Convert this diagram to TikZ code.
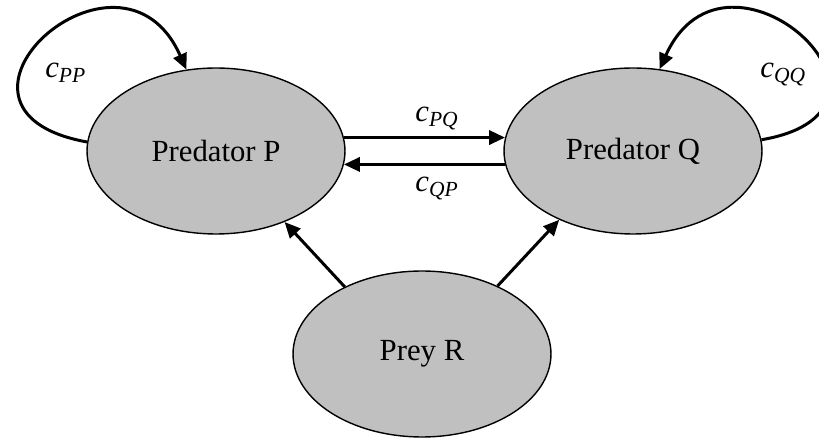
\documentclass[tikz,border=0pt]{standalone}
\usepackage{fontspec}
\setmainfont{Liberation Serif}
\usetikzlibrary{arrows.meta,shapes.geometric}
\definecolor{NodeClr}{RGB}{192,192,192}
\newcommand{\coef}[1]{\textit{c}\textsubscript{\textit{#1}}}

\begin{document}
\begin{tikzpicture}[x=0.02cm,y=-0.02cm,
  species/.style={ellipse,draw,line width=0.8pt,fill=NodeClr,
    minimum width=5.16cm,minimum height=3.32cm,inner sep=0pt,
    font=\fontsize{17.5}{21}\selectfont},
  arr/.style={line width=1.7pt,-{Triangle[length=9pt,width=8pt]}},
  lbl/.style={font=\fontsize{17.5}{21}\selectfont,inner sep=0pt,anchor=base west}]
\useasboundingbox (0,0) rectangle (819,438);
\clip (0,0) rectangle (819,438);

\node[species] (P) at (216,151) {Predator P};
\node[species] (Q) at (633,151) {Predator Q};
\node[species] (R) at (422,354) {Prey R};

% self loops
\draw[arr] (P.176) .. controls (-90,110) and (120,-80) .. (P.110);
\draw[arr] (Q.5) .. controls (935,110) and (727,-80) .. (Q.72);

% between predators
\draw[arr] (P.6) -- (Q.174);
\draw[arr] (Q.186) -- (P.354);

% prey feeds both
\draw[arr] (R.139) -- (P.314);
\draw[arr] (R.42) -- (Q.223);

\node[lbl] (lPP) at (45,78) {\coef{PP}};
\node[lbl] (lQQ) at (760,78) {\coef{QQ}};
\node[lbl] (lPQ) at (415,122) {\coef{PQ}};
\node[lbl] (lQP) at (415,192) {\coef{QP}};

\end{tikzpicture}
\end{document}
